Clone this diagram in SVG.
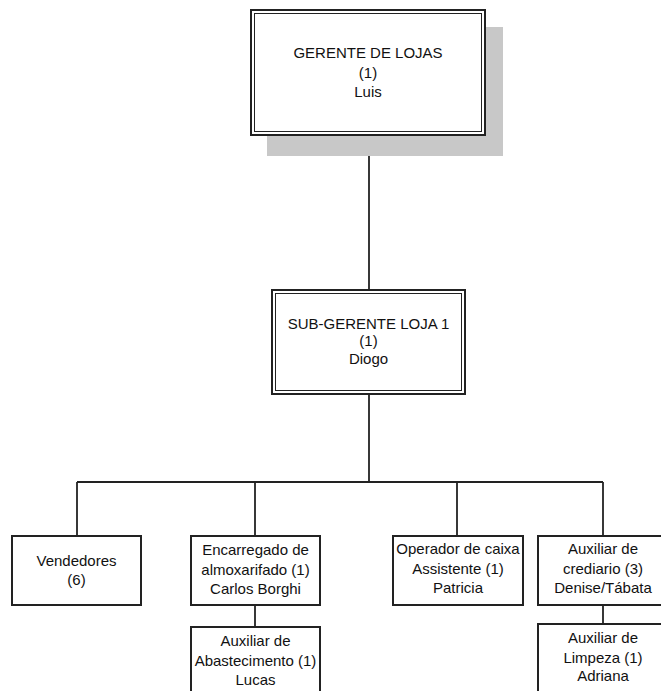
<svg xmlns="http://www.w3.org/2000/svg" width="661" height="691" viewBox="0 0 661 691">
<style>
.t{font-family:"Liberation Sans",Arial,sans-serif;font-size:15px;fill:#111;text-anchor:middle}
.b{fill:#fff;stroke:#222;stroke-width:2}
.in{fill:none;stroke:#222;stroke-width:1}
.c{fill:none;stroke:#222;stroke-width:1.8}
</style>
<rect width="661" height="691" fill="#fff"/>
<g id="connectors">
<line class="c" x1="369" y1="135" x2="369" y2="290"/>
<line class="c" x1="369" y1="394" x2="369" y2="482"/>
<line class="c" x1="77" y1="482" x2="603" y2="482"/>
<line class="c" x1="77" y1="482" x2="77" y2="536"/>
<line class="c" x1="255" y1="482" x2="255" y2="536"/>
<line class="c" x1="457" y1="482" x2="457" y2="536"/>
<line class="c" x1="603" y1="482" x2="603" y2="536"/>
<line class="c" x1="255" y1="605" x2="255" y2="627"/>
<line class="c" x1="603" y1="605" x2="603" y2="624"/>
</g>
<g id="gerente">
<rect x="267" y="27" width="236" height="129" fill="#c8c8c8"/>
<rect class="b" x="251" y="10" width="234" height="125"/>
<rect class="in" x="254.5" y="13.5" width="227" height="118"/>
<text class="t" x="368" y="58">GERENTE DE LOJAS</text>
<text class="t" x="368" y="78">(1)</text>
<text class="t" x="368" y="97">Luis</text>
</g>
<g id="subgerente">
<rect class="b" x="272" y="290" width="193" height="104"/>
<rect class="in" x="275.5" y="293.5" width="186" height="97"/>
<text class="t" x="368.5" y="329">SUB-GERENTE LOJA 1</text>
<text class="t" x="368.5" y="346">(1)</text>
<text class="t" x="368.5" y="364">Diogo</text>
</g>
<g id="vendedores">
<rect class="b" x="12" y="536" width="129" height="69"/>
<text class="t" x="76.5" y="566">Vendedores</text>
<text class="t" x="76.5" y="585">(6)</text>
</g>
<g id="encarregado">
<rect class="b" x="191" y="536" width="129" height="69"/>
<text class="t" x="255.5" y="555">Encarregado de</text>
<text class="t" x="255.5" y="575">almoxarifado (1)</text>
<text class="t" x="255.5" y="594">Carlos Borghi</text>
</g>
<g id="abastecimento">
<rect class="b" x="191" y="627" width="129" height="72"/>
<text class="t" x="255.5" y="646">Auxiliar de</text>
<text class="t" x="255.5" y="666">Abastecimento (1)</text>
<text class="t" x="255.5" y="685">Lucas</text>
</g>
<g id="operador">
<rect class="b" x="393" y="536" width="130" height="69"/>
<text class="t" x="458" y="554">Operador de caixa</text>
<text class="t" x="458" y="574">Assistente (1)</text>
<text class="t" x="458" y="593">Patricia</text>
</g>
<g id="crediario">
<rect class="b" x="538" y="536" width="130" height="69"/>
<text class="t" x="603" y="554">Auxiliar de</text>
<text class="t" x="603" y="574">crediario (3)</text>
<text class="t" x="603" y="593">Denise/Tábata</text>
</g>
<g id="limpeza">
<rect class="b" x="538" y="624" width="130" height="75"/>
<text class="t" x="603" y="643">Auxiliar de</text>
<text class="t" x="603" y="663">Limpeza (1)</text>
<text class="t" x="603" y="681">Adriana</text>
</g>
</svg>
